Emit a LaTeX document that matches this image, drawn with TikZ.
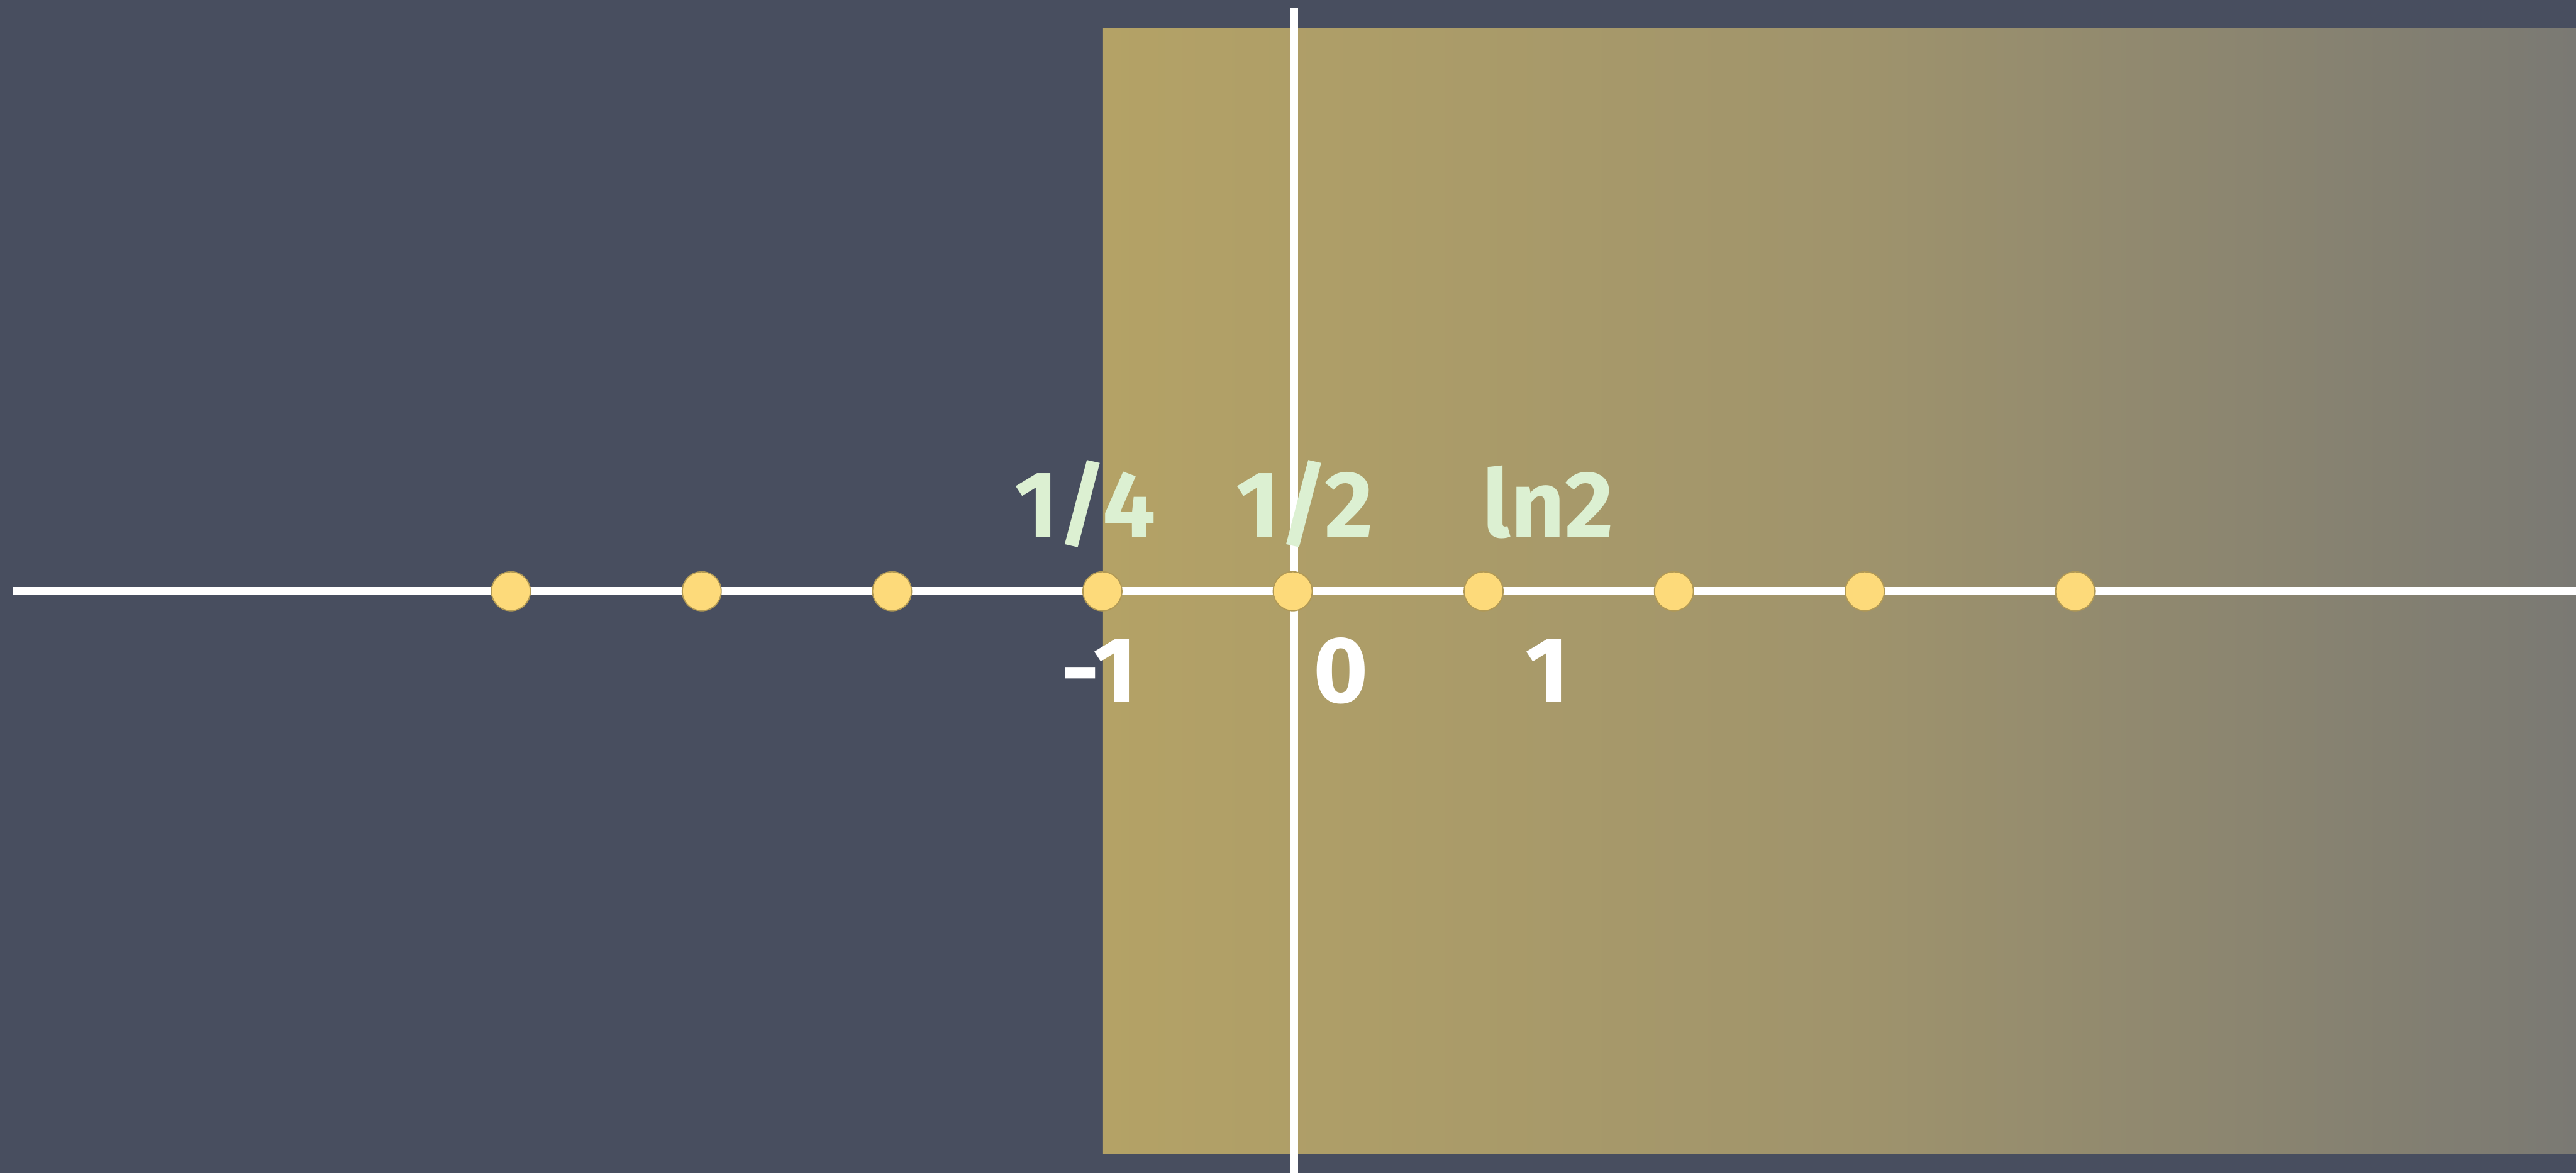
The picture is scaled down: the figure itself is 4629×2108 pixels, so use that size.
\documentclass[tikz,border=0pt]{standalone}
\usepackage{fontspec}
\setmainfont{Fira Sans}
\definecolor{board}{RGB}{72,78,95}
\definecolor{goldL}{RGB}{180,162,102}
\definecolor{goldM}{RGB}{160,148,108}
\definecolor{goldR}{RGB}{122,121,115}
\definecolor{dotfill}{RGB}{253,218,122}
\definecolor{chalkgreen}{RGB}{220,240,210}
\begin{document}
\begin{tikzpicture}[x=0.01cm,y=-0.01cm,
  chalk/.style={draw=white,line width=4.2pt},
  dotnode/.style={circle,fill=dotfill,draw=dotfill!70!black,line width=0.6pt,minimum size=0.7cm,inner sep=0pt},
  toplabel/.style={text=chalkgreen,font=\fontsize{48}{54}\selectfont\bfseries,anchor=base,inner sep=0pt},
  botlabel/.style={text=white,font=\fontsize{48}{54}\selectfont\bfseries,anchor=base,inner sep=0pt}]
\useasboundingbox (0,0) rectangle (4629,2108);
\fill[board] (0,0) rectangle (4629,2108);
% shaded region
\shade[left color=goldL,right color=goldR,middle color=goldM] (1982,50) rectangle (4629,2073);
% axes
\coordinate (xl) at (23,1062);
\coordinate (xr) at (4629,1062);
\coordinate (yt) at (2325,15);
\coordinate (yb) at (2325,2108);
\draw[chalk] (xl) -- (xr);
\draw[chalk] (yt) -- (yb);
% dots
\foreach \n/\x in {d1/918,d2/1261,d3/1603,d4/1981,d5/2323,d6/2666,d7/3008,d8/3351,d9/3729}
  \node[dotnode] (\n) at (\x,1062) {};
% labels
\node[toplabel] (q) at (1950,965) {1/4};
\node[toplabel] (h) at (2344,965) {1/2};
\node[toplabel] (l) at (2782,965) {ln2};
\node[botlabel] (m1) at (1975,1262) {-1};
\node[botlabel] (z) at (2410,1262) {0};
\node[botlabel] (p1) at (2780,1262) {1};
\end{tikzpicture}
\end{document}
